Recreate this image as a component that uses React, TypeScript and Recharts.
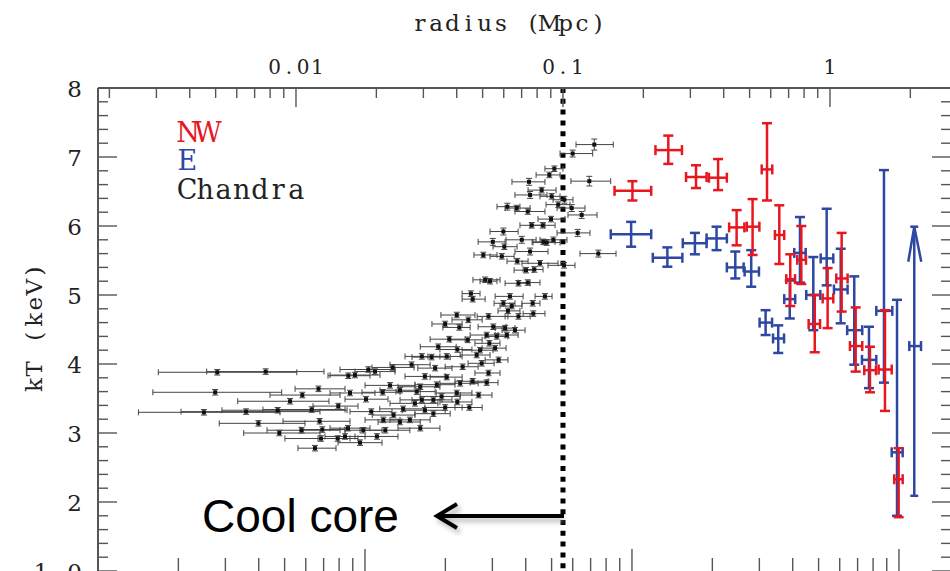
import { ScatterChart, Scatter, XAxis, YAxis, ErrorBar, ReferenceLine } from 'recharts'

// [radius Mpc, radius low, radius high, kT keV, kT low, kT high]
const nwRows = [
  [0.182, 0.156, 0.214, 6.51, 6.37, 6.65],
  [0.248, 0.222, 0.279, 7.1, 6.9, 7.31],
  [0.315, 0.289, 0.345, 6.71, 6.55, 6.88],
  [0.381, 0.352, 0.411, 6.7, 6.52, 6.97],
  [0.447, 0.419, 0.478, 5.98, 5.72, 6.23],
  [0.513, 0.488, 0.544, 5.99, 5.58, 6.39],
  [0.581, 0.555, 0.608, 6.82, 6.37, 7.49],
  [0.646, 0.622, 0.674, 5.87, 5.45, 6.3],
  [0.71, 0.686, 0.74, 5.23, 4.84, 5.59],
  [0.781, 0.754, 0.813, 5.51, 5.16, 6.0],
  [0.877, 0.832, 0.918, 4.58, 4.17, 5.0],
  [0.98, 0.939, 1.029, 4.95, 4.52, 5.39],
  [1.106, 1.056, 1.164, 5.24, 4.76, 5.9],
  [1.248, 1.188, 1.321, 4.26, 3.89, 4.82],
  [1.412, 1.344, 1.487, 3.91, 3.59, 4.25],
  [1.607, 1.521, 1.703, 3.92, 3.32, 4.78],
  [1.808, 1.741, 1.872, 2.33, 1.78, 2.78],
]

const eRows = [
  [0.18, 0.151, 0.214, 5.88, 5.7, 6.06],
  [0.246, 0.217, 0.28, 5.54, 5.41, 5.69],
  [0.312, 0.281, 0.345, 5.75, 5.59, 5.9],
  [0.376, 0.345, 0.411, 5.82, 5.65, 5.99],
  [0.442, 0.411, 0.475, 5.4, 5.24, 5.63],
  [0.507, 0.479, 0.542, 5.34, 5.12, 5.65],
  [0.574, 0.545, 0.607, 4.6, 4.42, 4.78],
  [0.64, 0.612, 0.673, 4.37, 4.16, 4.56],
  [0.707, 0.674, 0.741, 4.94, 4.66, 5.21],
  [0.772, 0.735, 0.811, 5.61, 5.18, 6.13],
  [0.866, 0.815, 0.92, 5.0, 4.49, 5.55],
  [0.972, 0.923, 1.029, 5.53, 5.14, 6.25],
  [1.097, 1.035, 1.164, 5.08, 4.59, 5.67],
  [1.233, 1.16, 1.321, 4.49, 3.99, 5.27],
  [1.4, 1.318, 1.491, 4.06, 3.65, 4.54],
  [1.593, 1.491, 1.712, 4.77, 3.73, 6.81],
  [1.783, 1.703, 1.872, 2.72, 1.8, 4.93],
]

// lower limit (arrow up)
const eLimitRows = [[2.069, 1.982, 2.193, 4.26, 2.09, 5.99]]

// [radius Mpc, radius low, radius high, kT keV, kT error]
const chandraRows = [
  [0.131, 0.1119, 0.1543, 7.18, 0.08],
  [0.1087, 0.0975, 0.1292, 7.05, 0.05],
  [0.1255, 0.1071, 0.1509, 6.65, 0.07],
  [0.0928, 0.0856, 0.1, 6.83, 0.04],
  [0.0889, 0.0793, 0.0975, 6.74, 0.04],
  [0.1078, 0.095, 0.1209, 6.26, 0.05],
  [0.1175, 0.1044, 0.1341, 6.16, 0.05],
  [0.1012, 0.0918, 0.109, 6.38, 0.05],
  [0.1135, 0.095, 0.1262, 5.9, 0.05],
  [0.1356, 0.1158, 0.158, 5.6, 0.05],
  [0.0902, 0.0806, 0.1018, 6.1, 0.04],
  [0.092, 0.082, 0.1035, 5.8, 0.04],
  [0.0869, 0.0772, 0.0975, 5.76, 0.04],
  [0.1009, 0.0879, 0.1109, 5.43, 0.04],
  [0.0746, 0.0644, 0.0856, 6.64, 0.05],
  [0.0753, 0.0661, 0.0871, 6.45, 0.05],
  [0.0832, 0.074, 0.0942, 6.52, 0.04],
  [0.0619, 0.0566, 0.069, 6.28, 0.05],
  [0.0671, 0.0607, 0.0753, 6.26, 0.04],
  [0.0738, 0.0661, 0.0856, 6.21, 0.04],
  [0.096, 0.0864, 0.1062, 6.31, 0.04],
  [0.0598, 0.0533, 0.0679, 5.92, 0.05],
  [0.0701, 0.0612, 0.0793, 5.8, 0.05],
  [0.0546, 0.0481, 0.0607, 5.77, 0.05],
  [0.0603, 0.0547, 0.0673, 5.7, 0.04],
  [0.0503, 0.0464, 0.0566, 5.58, 0.04],
  [0.059, 0.0533, 0.0656, 5.56, 0.04],
  [0.0753, 0.0661, 0.0879, 5.63, 0.05],
  [0.082, 0.0702, 0.0958, 5.46, 0.04],
  [0.0674, 0.0617, 0.074, 5.49, 0.04],
  [0.0727, 0.0656, 0.0772, 5.36, 0.04],
  [0.0781, 0.0709, 0.0842, 5.37, 0.04],
  [0.0844, 0.0766, 0.0934, 5.77, 0.04],
  [0.084, 0.0753, 0.0934, 6.01, 0.04],
  [0.0764, 0.069, 0.0856, 6.01, 0.04],
  [0.0907, 0.082, 0.0975, 6.43, 0.04],
  [0.0511, 0.046, 0.0581, 5.22, 0.04],
  [0.0533, 0.0489, 0.0566, 5.2, 0.04],
  [0.0681, 0.0607, 0.0753, 5.17, 0.04],
  [0.0738, 0.0679, 0.082, 5.18, 0.04],
  [0.0452, 0.0419, 0.0489, 5.02, 0.04],
  [0.0459, 0.0419, 0.0511, 4.94, 0.04],
  [0.0856, 0.0786, 0.091, 4.98, 0.04],
  [0.0633, 0.0557, 0.0709, 4.98, 0.04],
  [0.0598, 0.0552, 0.0661, 4.88, 0.04],
  [0.077, 0.0702, 0.082, 4.88, 0.04],
  [0.0643, 0.0581, 0.0702, 4.84, 0.04],
  [0.0622, 0.0571, 0.069, 4.77, 0.04],
  [0.04, 0.0349, 0.0468, 4.71, 0.04],
  [0.0442, 0.0384, 0.0498, 4.64, 0.04],
  [0.0526, 0.0477, 0.0622, 4.69, 0.04],
  [0.0681, 0.0607, 0.0753, 4.69, 0.04],
  [0.0774, 0.0709, 0.0856, 4.73, 0.04],
  [0.0362, 0.0323, 0.0419, 4.58, 0.04],
  [0.0409, 0.0355, 0.0449, 4.53, 0.04],
  [0.0548, 0.0481, 0.0612, 4.54, 0.04],
  [0.0607, 0.0557, 0.0661, 4.52, 0.04],
  [0.0661, 0.0591, 0.0721, 4.49, 0.04],
  [0.0518, 0.0449, 0.0571, 4.42, 0.04],
  [0.0565, 0.0511, 0.0622, 4.4, 0.04],
  [0.0616, 0.0557, 0.0679, 4.42, 0.04],
  [0.0375, 0.0318, 0.043, 4.36, 0.04],
  [0.044, 0.0378, 0.0498, 4.35, 0.04],
  [0.053, 0.0468, 0.0581, 4.3, 0.04],
  [0.0341, 0.0292, 0.0398, 4.25, 0.04],
  [0.0402, 0.0346, 0.0456, 4.21, 0.04],
  [0.0489, 0.0419, 0.0547, 4.2, 0.04],
  [0.0557, 0.0498, 0.0612, 4.23, 0.04],
  [0.0296, 0.0256, 0.0346, 4.11, 0.04],
  [0.0322, 0.0272, 0.0378, 4.1, 0.04],
  [0.0367, 0.0312, 0.0419, 4.11, 0.04],
  [0.0475, 0.0412, 0.0533, 4.13, 0.04],
  [0.0574, 0.0511, 0.0622, 4.06, 0.04],
  [0.0271, 0.0225, 0.0318, 3.99, 0.04],
  [0.0332, 0.0286, 0.0384, 3.94, 0.04],
  [0.0421, 0.0362, 0.0481, 3.96, 0.04],
  [0.0496, 0.0441, 0.0552, 4.01, 0.04],
  [0.01866, 0.01462, 0.02349, 3.92, 0.04],
  [0.02303, 0.01926, 0.02768, 3.95, 0.04],
  [0.0157, 0.01318, 0.01893, 3.83, 0.04],
  [0.01663, 0.01341, 0.02064, 3.84, 0.04],
  [0.01976, 0.01663, 0.02349, 3.89, 0.04],
  [0.0304, 0.0256, 0.0362, 3.82, 0.04],
  [0.0367, 0.0318, 0.0419, 3.81, 0.04],
  [0.0526, 0.0468, 0.0581, 3.87, 0.04],
  [0.0412, 0.0346, 0.0481, 3.72, 0.04],
  [0.0459, 0.0394, 0.0524, 3.75, 0.04],
  [0.0518, 0.0449, 0.0571, 3.73, 0.04],
  [0.0225, 0.01814, 0.02792, 3.69, 0.04],
  [0.0292, 0.0241, 0.0346, 3.67, 0.04],
  [0.0337, 0.0279, 0.0394, 3.7, 0.04],
  [0.04, 0.0335, 0.0456, 3.58, 0.04],
  [0.0483, 0.0412, 0.0542, 3.55, 0.04],
  [0.0351, 0.0292, 0.0412, 3.53, 0.04],
  [0.0279, 0.0225, 0.034, 3.43, 0.04],
  [0.0327, 0.0272, 0.0384, 3.48, 0.04],
  [0.0402, 0.0346, 0.0456, 3.45, 0.04],
  [0.0446, 0.0394, 0.0498, 3.37, 0.04],
  [0.0362, 0.0304, 0.0419, 3.37, 0.04],
  [0.0304, 0.025, 0.0362, 3.33, 0.04],
  [0.0252, 0.0206, 0.0304, 3.35, 0.04],
  [0.0232, 0.0193, 0.0279, 3.26, 0.04],
  [0.0327, 0.0279, 0.0378, 3.28, 0.04],
  [0.0267, 0.0225, 0.0318, 3.19, 0.04],
  [0.0245, 0.0203, 0.0292, 3.16, 0.04],
  [0.0292, 0.0241, 0.0346, 3.07, 0.04],
  [0.0216, 0.01737, 0.0267, 3.04, 0.04],
  [0.0201, 0.01663, 0.0241, 2.95, 0.04],
  [0.01737, 0.01437, 0.021, 2.86, 0.04],
  [0.01526, 0.01284, 0.01814, 2.95, 0.04],
  [0.01433, 0.01209, 0.01707, 2.92, 0.04],
  [0.01178, 0.01017, 0.01412, 2.78, 0.04],
  [0.00507, 0.00305, 0.01007, 3.88, 0.04],
  [0.0077, 0.00463, 0.01273, 3.89, 0.04],
  [0.00498, 0.00291, 0.00884, 3.59, 0.04],
  [0.0095, 0.00605, 0.01329, 3.46, 0.04],
  [0.00452, 0.00257, 0.00871, 3.3, 0.04],
  [0.0065, 0.00371, 0.0123, 3.31, 0.04],
  [0.00854, 0.00528, 0.01553, 3.33, 0.04],
  [0.01145, 0.00752, 0.01526, 3.34, 0.04],
  [0.0144, 0.01158, 0.01707, 3.39, 0.04],
  [0.00723, 0.00516, 0.01081, 3.14, 0.04],
  [0.01226, 0.00894, 0.01593, 3.17, 0.04],
  [0.00866, 0.00637, 0.0123, 3.0, 0.04],
  [0.0105, 0.00779, 0.01462, 3.04, 0.04],
  [0.01255, 0.01035, 0.01526, 3.05, 0.04],
  [0.01566, 0.01341, 0.01893, 3.07, 0.04],
  [0.01787, 0.01526, 0.021, 3.04, 0.04],
  [0.01241, 0.00909, 0.01593, 2.92, 0.04],
  [0.01214, 0.00992, 0.01526, 3.64, 0.04],
  [0.01056, 0.00799, 0.01462, 3.55, 0.04],
  [0.01593, 0.01341, 0.01976, 3.58, 0.04],
  [0.01829, 0.01526, 0.02211, 3.49, 0.04],
  [0.02113, 0.01767, 0.02453, 3.59, 0.04],
  [0.01914, 0.01593, 0.02289, 3.31, 0.04],
  [0.02453, 0.02064, 0.0292, 3.62, 0.04],
  [0.02833, 0.02369, 0.0332, 3.6, 0.04],
  [0.02124, 0.01814, 0.02453, 3.19, 0.04],
  [0.0296, 0.02453, 0.03523, 3.48, 0.04],
]

// top axis: radius (Mpc)
const topTicks = [
  0.002, 0.003, 0.004, 0.005, 0.006, 0.007, 0.008, 0.009,
  0.01, 0.02, 0.03, 0.04, 0.05, 0.06, 0.07, 0.08, 0.09,
  0.1, 0.2, 0.3, 0.4, 0.5, 0.6, 0.7, 0.8, 0.9, 1, 2,
]
const topLabels = [0.01, 0.1, 1]
// bottom axis (arcmin), its labels fall below the crop
const bottomTicks = [
  0.2, 0.3, 0.4, 0.5, 0.6, 0.7, 0.8, 0.9,
  1, 2, 3, 4, 5, 6, 7, 8, 9, 10, 20, 30, 40, 50, 60, 70, 80, 90, 100,
]
const bottomMajor = [1, 10, 100]
const MPC_PER_ARCMIN = 0.01813
const yTicks = [
  1, 1.2, 1.4, 1.6, 1.8, 2, 2.2, 2.4, 2.6, 2.8, 3, 3.2, 3.4, 3.6, 3.8, 4,
  4.2, 4.4, 4.6, 4.8, 5, 5.2, 5.4, 5.6, 5.8, 6, 6.2, 6.4, 6.6, 6.8, 7, 7.2, 7.4, 7.6, 7.8, 8,
]
const yMajor = [1, 2, 3, 4, 5, 6, 7, 8]
const yLabels = ['1.0', '2', '3', '4', '5', '6', '7', '8']

const RED = '#e8161f'
const BLUE = '#2d47a3'
const AXIS = '#555'
const INK = '#222'
const SERIF = '"DejaVu Serif", "Liberation Serif", serif'

const LEFT = 98
const TOP = 88
const RIGHT = 951
const BOTTOM = 571

const same = (a: number, b: number) => Math.abs(a - b) < 1e-9

const crossRow = ([r, rLo, rHi, kT, kLo, kHi]: number[]) => ({
  r, kT, xErr: [r - rLo, rHi - r], yErr: [kT - kLo, kHi - kT],
})
const nwData = nwRows.map(crossRow)
const eData = eRows.map(crossRow)
const eLimitData = eLimitRows.map(crossRow)
const eArrowData = eLimitRows.map((row) => ({ r: row[0], kT: row[5] }))
const chandraData = chandraRows.map(([r, rLo, rHi, kT, e]) => ({
  r, kT, xErr: [r - rLo, rHi - r], yErr: [e, e],
}))

const bottomInMpc = bottomTicks.map((t) => t * MPC_PER_ARCMIN)
const allXTicks = [...topTicks, ...bottomInMpc]

// typewriter-like text: serif glyphs on a fixed advance
const MonoText = ({ x, y, text, size, adv, anchor = 'start', fill = INK, transform }: any) => {
  const n = text.length
  const start = anchor === 'middle' ? x - (n * adv) / 2 : anchor === 'end' ? x - n * adv : x
  const xs = Array.from(text as string, (_, i) => start + i * adv + adv / 2).join(' ')
  return (
    <text x={xs} y={y} textAnchor="middle" fontFamily={SERIF} fontSize={size} fill={fill} transform={transform}>
      {text}
    </text>
  )
}

const XTick = (props: any) => {
  const { x, payload } = props
  const v = payload.value
  const b = bottomInMpc.findIndex((t) => same(t, v))
  if (b >= 0) {
    const major = bottomMajor.some((t) => same(t, bottomTicks[b]))
    return <line x1={x} x2={x} y1={BOTTOM} y2={BOTTOM - (major ? 22 : 13)} stroke={AXIS} strokeWidth={1.4} />
  }
  const major = topLabels.some((t) => same(t, v))
  return (
    <g>
      <line x1={x} x2={x} y1={TOP} y2={TOP + (major ? 19 : 10)} stroke={AXIS} strokeWidth={1.4} />
      {major && <MonoText x={x} y={74} text={String(v)} size={20} adv={14.3} anchor="middle" />}
    </g>
  )
}

const SideTick = (props: any) => {
  const { y, payload } = props
  const idx = yMajor.findIndex((t) => same(t, payload.value))
  const len = idx >= 0 ? 19 : 10
  return (
    <g>
      <line x1={LEFT} x2={LEFT + len} y1={y} y2={y} stroke={AXIS} strokeWidth={1.4} />
      <line x1={RIGHT - len} x2={RIGHT} y1={y} y2={y} stroke={AXIS} strokeWidth={1.4} />
      {idx >= 0 && <MonoText x={83} y={y + 8.5} text={yLabels[idx]} size={23} adv={16.8} anchor="end" />}
    </g>
  )
}

const blank = () => <g />
const square = (p: any) => <rect x={p.cx - 2} y={p.cy - 2} width={4} height={4} fill="#111" />
const chevron = (p: any) => (
  <polyline
    points={`${p.cx - 6},${p.cy + 35} ${p.cx},${p.cy} ${p.cx + 7},${p.cy + 35}`}
    fill="none" stroke={BLUE} strokeWidth={2.5}
  />
)
const dottedShadow = (p: any) => (
  <line x1={p.x1 + 7} x2={p.x2 + 7} y1={p.y1} y2={p.y2} stroke="#bbb" strokeWidth={7} filter="url(#soft)" opacity={0.6} />
)

export default function App() {
  return (
    <div style={{ position: 'fixed', left: 0, top: 0, width: 950, height: 571, overflow: 'hidden', background: '#fff' }}>
      <svg width={0} height={0} style={{ position: 'absolute' }}>
        <defs>
          <filter id="soft" x="-100%" y="-20%" width="300%" height="140%">
            <feGaussianBlur stdDeviation="2.5" />
          </filter>
        </defs>
      </svg>
      <ScatterChart width={1000} height={620} margin={{ top: 0, right: 49, bottom: 49, left: 0 }}>
        <XAxis
          xAxisId="top" orientation="top" dataKey="r" type="number" scale="log"
          domain={[0.001813, 2.84]} allowDataOverflow ticks={allXTicks} interval={0}
          height={TOP} tickSize={0} tick={XTick} axisLine={{ stroke: AXIS, strokeWidth: 2 }}
        />
        <YAxis
          yAxisId="kT" dataKey="kT" type="number" domain={[1, 8]} allowDataOverflow
          ticks={yTicks} interval={0} width={LEFT} tickSize={0} tick={SideTick}
          axisLine={{ stroke: AXIS, strokeWidth: 2 }}
        />
        <ReferenceLine xAxisId="top" yAxisId="kT" x={0.1} shape={dottedShadow} />
        <ReferenceLine
          xAxisId="top" yAxisId="kT" x={0.1} stroke="#000" strokeWidth={5} strokeDasharray="5 5.8"
        />
        <Scatter name="Chandra" data={chandraData} xAxisId="top" yAxisId="kT" shape={square} isAnimationActive={false}>
          <ErrorBar dataKey="xErr" direction="x" stroke="#444" strokeWidth={1} width={3} />
          <ErrorBar dataKey="yErr" direction="y" stroke="#444" strokeWidth={1} width={3} />
        </Scatter>
        <Scatter name="E" data={eData} xAxisId="top" yAxisId="kT" shape={blank} isAnimationActive={false}>
          <ErrorBar dataKey="xErr" direction="x" stroke={BLUE} strokeWidth={2.5} width={5} />
          <ErrorBar dataKey="yErr" direction="y" stroke={BLUE} strokeWidth={2.5} width={5} />
        </Scatter>
        <Scatter name="E limit" data={eLimitData} xAxisId="top" yAxisId="kT" shape={blank} isAnimationActive={false}>
          <ErrorBar dataKey="xErr" direction="x" stroke={BLUE} strokeWidth={2.5} width={5} />
          <ErrorBar dataKey="yErr" direction="y" stroke={BLUE} strokeWidth={2.5} width={4} />
        </Scatter>
        <Scatter name="E arrow" data={eArrowData} xAxisId="top" yAxisId="kT" shape={chevron} isAnimationActive={false} />
        <Scatter name="NW" data={nwData} xAxisId="top" yAxisId="kT" shape={blank} isAnimationActive={false}>
          <ErrorBar dataKey="xErr" direction="x" stroke={RED} strokeWidth={2.5} width={5} />
          <ErrorBar dataKey="yErr" direction="y" stroke={RED} strokeWidth={2.5} width={5} />
        </Scatter>
      </ScatterChart>
      <svg width={950} height={571} style={{ position: 'absolute', left: 0, top: 0, pointerEvents: 'none' }}>
        <MonoText x={509} y={31} text="radius (Mpc)" size={23} adv={16.2} anchor="middle" />
        <MonoText x={328} y={42} text="kT (keV)" size={23} adv={16.3} anchor="middle" transform="rotate(-90 0 0) translate(-656 0)" />
        <MonoText x={178} y={142} text="NW" size={27} adv={20} fill={RED} />
        <MonoText x={178} y={170} text="E" size={27} adv={18.5} fill={BLUE} />
        <MonoText x={178} y={199} text="Chandra" size={27} adv={18.2} />
        <g filter="url(#soft)" stroke="#999" strokeWidth={4} fill="none" opacity={0.7}>
          <line x1={442} y1={520} x2={564} y2={520} />
          <polyline points="460,508 440,520 460,532" />
        </g>
        <line x1={438} y1={516} x2={564} y2={516} stroke="#000" strokeWidth={4} />
        <polyline points="457,504 437,516 457,528" fill="none" stroke="#000" strokeWidth={4} />
        <text x={202} y={532} fontFamily='"Liberation Sans", Arial, sans-serif' fontSize={46} fill="#000">Cool core</text>
      </svg>
    </div>
  )
}
